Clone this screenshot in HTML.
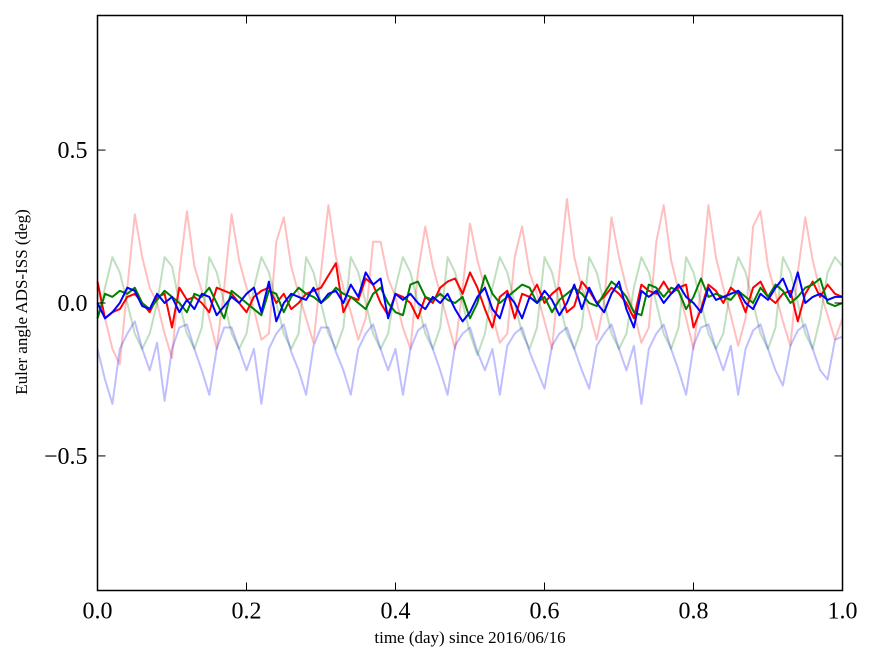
<!DOCTYPE html>
<html><head><meta charset="utf-8"><style>
html,body{margin:0;padding:0;background:#fff;}
svg{display:block;font-family:"Liberation Serif",serif;}
</style></head><body>
<svg id="chart" width="875" height="662" viewBox="0 0 875 662" xmlns="http://www.w3.org/2000/svg">
<g id="series"></g>
<rect x="97.5" y="15.5" width="745" height="575" fill="none" stroke="#000" stroke-width="1.5"/>
<g id="ticks"></g>
<text x="470" y="643" font-size="17" text-anchor="middle">time (day) since 2016/06/16</text>
<text transform="translate(27,302) rotate(-90)" font-size="17" text-anchor="middle">Euler angle ADS-ISS (deg)</text>
</svg>
<script>
const xTicks=[0,0.2,0.4,0.6,0.8,1.0];
const xTickLabels=["0.0","0.2","0.4","0.6","0.8","1.0"];
const yTicks=[0.5,0,-0.5];
const yTickLabels=["0.5","0.0","\u22120.5"];
const redFaint=[0.05,-0.05,-0.15,-0.2,0.05,0.29,0.15,0.05,0.0,-0.1,-0.18,0.1,0.3,0.12,0.04,-0.05,-0.15,0.05,0.29,0.14,0.05,-0.02,-0.12,-0.1,0.2,0.28,0.12,0.03,-0.05,-0.13,0.1,0.32,0.15,0.05,-0.03,-0.12,-0.05,0.2,0.2,0.08,0.02,-0.08,-0.15,0.1,0.25,0.12,0.03,-0.06,-0.15,0.05,0.26,0.14,0.05,-0.04,-0.13,-0.1,0.15,0.25,0.1,0.03,-0.06,-0.15,0.1,0.34,0.15,0.05,-0.03,-0.12,0.0,0.28,0.15,0.05,-0.03,-0.13,-0.08,0.2,0.32,0.14,0.04,-0.05,-0.15,0.05,0.32,0.15,0.05,-0.04,-0.14,-0.05,0.25,0.3,0.12,0.03,-0.06,-0.14,0.1,0.28,0.14,0.04,-0.04,-0.12,-0.05];
const greenFaint=[-0.05,0.05,0.15,0.1,0.0,-0.1,-0.15,-0.1,0.0,0.15,0.12,0.0,-0.1,-0.15,-0.08,0.15,0.1,0.0,-0.1,-0.15,-0.1,0.05,0.15,0.1,0.0,-0.1,-0.15,-0.1,0.15,0.1,0.0,-0.1,-0.15,-0.08,0.15,0.1,0.0,-0.1,-0.15,-0.1,0.05,0.15,0.1,0.0,-0.1,-0.15,-0.08,0.15,0.1,0.0,-0.1,-0.17,-0.1,0.05,0.15,0.1,0.0,-0.1,-0.15,-0.08,0.15,0.1,0.0,-0.1,-0.15,-0.08,0.15,0.1,0.0,-0.1,-0.15,-0.1,0.05,0.15,0.1,0.0,-0.1,-0.15,-0.08,0.15,0.1,0.0,-0.1,-0.15,-0.1,0.05,0.15,0.1,0.0,-0.1,-0.15,-0.08,0.15,0.1,0.0,-0.1,-0.15,-0.05,0.1,0.15,0.12];
const blueFaint=[-0.15,-0.25,-0.33,-0.15,-0.1,-0.06,-0.15,-0.22,-0.13,-0.32,-0.15,-0.08,-0.07,-0.15,-0.22,-0.3,-0.15,-0.08,-0.08,-0.15,-0.22,-0.15,-0.33,-0.15,-0.1,-0.07,-0.16,-0.22,-0.3,-0.14,-0.08,-0.08,-0.16,-0.22,-0.3,-0.15,-0.1,-0.07,-0.15,-0.22,-0.15,-0.3,-0.15,-0.09,-0.07,-0.15,-0.22,-0.3,-0.14,-0.1,-0.08,-0.16,-0.22,-0.15,-0.3,-0.14,-0.1,-0.08,-0.16,-0.22,-0.28,-0.14,-0.1,-0.08,-0.15,-0.22,-0.28,-0.14,-0.1,-0.07,-0.15,-0.22,-0.14,-0.33,-0.15,-0.1,-0.07,-0.15,-0.22,-0.3,-0.14,-0.08,-0.07,-0.15,-0.22,-0.14,-0.3,-0.15,-0.09,-0.07,-0.15,-0.22,-0.27,-0.14,-0.09,-0.07,-0.15,-0.22,-0.25,-0.12,-0.11];
const redDark=[0.07,-0.05,-0.03,-0.02,0.02,0.03,0.0,-0.03,0.02,0.03,-0.08,0.05,0.01,0.02,0.0,-0.03,0.05,0.04,0.03,0.0,-0.03,0.02,0.04,0.05,0.0,0.03,-0.02,0.0,0.03,0.04,0.05,0.09,0.13,-0.03,0.02,0.01,0.08,0.06,0.0,-0.04,0.03,0.02,0.0,-0.05,0.02,0.0,0.05,0.07,0.08,0.03,0.1,0.05,-0.02,-0.08,0.02,0.04,-0.05,0.03,0.02,0.06,0.0,0.03,0.05,-0.03,-0.01,0.07,0.04,0.0,0.02,0.05,0.03,0.0,-0.05,0.06,0.04,0.03,0.07,0.03,0.05,0.06,-0.08,-0.02,0.06,0.04,0.0,0.05,0.03,-0.03,0.05,0.07,0.02,0.0,0.03,0.04,-0.06,0.03,0.07,0.02,0.06,0.03,0.02];
const greenDark=[-0.05,0.03,0.02,0.04,0.03,0.05,0.0,-0.02,0.01,0.04,0.02,0.0,-0.03,0.03,0.02,0.05,0.0,-0.05,0.04,0.02,0.0,-0.02,-0.04,0.04,0.03,-0.03,0.02,0.05,0.03,0.02,0.0,0.02,0.05,0.03,0.02,0.0,-0.02,0.03,0.05,0.0,-0.03,-0.04,0.06,0.07,0.02,0.01,0.03,0.01,0.0,0.02,-0.05,0.0,0.09,0.03,0.0,0.02,0.04,0.06,0.05,0.0,0.02,-0.03,0.01,0.03,0.05,0.03,0.0,-0.01,0.03,0.07,0.05,0.02,-0.03,-0.04,0.06,0.05,0.02,0.05,0.04,-0.02,0.02,0.08,0.02,0.03,0.02,0.01,0.04,0.02,0.0,0.05,0.02,0.06,0.04,0.0,0.02,0.05,0.06,0.08,0.0,-0.01,0.0];
const blueDark=[0.0,-0.05,-0.03,0.0,0.05,0.04,-0.01,-0.02,0.03,0.0,0.02,-0.03,0.01,-0.02,0.03,0.02,-0.04,-0.01,0.02,0.0,0.03,0.05,-0.03,0.07,-0.06,0.0,0.03,0.02,0.01,0.05,0.0,0.03,0.04,0.0,0.06,0.02,0.1,0.06,0.08,-0.05,0.03,0.01,0.03,0.0,-0.02,0.02,0.0,0.03,-0.02,-0.06,-0.03,0.02,0.05,-0.02,-0.05,0.03,0.0,-0.05,0.02,0.0,0.04,0.01,-0.04,0.0,0.06,-0.02,0.05,0.0,-0.03,0.03,0.07,-0.02,-0.08,0.04,0.02,0.04,0.0,0.03,0.06,0.02,0.0,-0.03,0.05,0.01,0.02,0.03,0.04,0.0,-0.02,0.03,0.01,0.05,0.08,0.02,0.1,0.0,0.02,0.03,0.01,0.02,0.02];

const NS="http://www.w3.org/2000/svg";
const X0=97.5,X1=842.5,Y0=590.5,Y1=15.5,YMIN=-0.94,YMAX=0.94;
function xs(v){return X0+(X1-X0)*v;}
function ys(v){return Y0-(Y0-Y1)*(v-YMIN)/(YMAX-YMIN);}
const g=document.getElementById('series');
function drawSeries(vals,color,opacity,name){
  const n=vals.length;
  const pts=vals.map((v,i)=>xs(i/(n-1)).toFixed(1)+','+ys(v).toFixed(1)).join(' ');
  const pl=document.createElementNS(NS,'polyline');
  pl.setAttribute('points',pts);
  pl.setAttribute('fill','none');
  pl.setAttribute('stroke',color);
  pl.setAttribute('stroke-opacity',opacity);
  pl.setAttribute('stroke-width','2');
  pl.setAttribute('stroke-linejoin','round');
  
  
  g.appendChild(pl);
}
drawSeries(redFaint,'#ff0000',0.25,'red-faint-series');
drawSeries(greenFaint,'#008000',0.25,'green-faint-series');
drawSeries(blueFaint,'#0000ff',0.25,'blue-faint-series');
drawSeries(redDark,'#ff0000',1,'red-series');
drawSeries(greenDark,'#008000',1,'green-series');
drawSeries(blueDark,'#0000ff',1,'blue-series');

const t=document.getElementById('ticks');
function line(x1,y1,x2,y2){
  const l=document.createElementNS(NS,'line');
  l.setAttribute('x1',x1);l.setAttribute('y1',y1);l.setAttribute('x2',x2);l.setAttribute('y2',y2);
  l.setAttribute('stroke','#000');l.setAttribute('stroke-width','1');
  
  
  t.appendChild(l);
}
function label(x,y,s,anchor,name){
  const e=document.createElementNS(NS,'text');
  e.setAttribute('x',x);e.setAttribute('y',y);e.setAttribute('font-size','24');
  e.setAttribute('text-anchor',anchor);e.textContent=s;
  
  
  t.appendChild(e);
}
xTicks.forEach((v,i)=>{const x=xs(v);line(x,Y0,x,Y0-8);line(x,Y1,x,Y1+8);label(x,Y0+28,xTickLabels[i],'middle','x-tick-label');});
yTicks.forEach((v,i)=>{const y=ys(v);line(X0,y,X0+8,y);line(X1,y,X1-8,y);label(X0-10,y+8,yTickLabels[i],'end','y-tick-label');});
</script>
</body></html>
